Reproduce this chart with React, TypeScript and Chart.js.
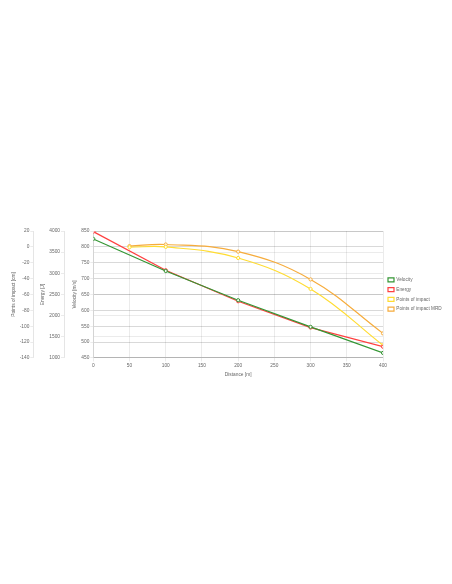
import React, { useEffect, useRef } from "react";
import { Chart, registerables } from "chart.js";

Chart.register(...registerables);

const distances = [0, 100, 200, 300, 400];
const velocity = [825, 724, 632, 548, 466];
const energy = [3985, 3073, 2340, 1718, 1266];
const poiDistances = [50, 100, 200, 300, 400];
const poi = [-0.5, 0, -14, -53, -124];
const poiMrd = [1, 3, -6, -41, -109];

const GREEN = "rgb(52,150,52)";
const RED = "rgb(255,64,64)";
const YELLOW = "rgb(255,220,50)";
const ORANGE = "rgb(246,172,60)";
const GRID = "rgba(0,0,0,0.1)";
const TICK = "#666";

export default function App() {
  const ref = useRef<HTMLCanvasElement>(null);
  useEffect(() => {
    if (!ref.current) return;
    const font = { size: 4.8, family: "'Liberation Sans', Arial, sans-serif" };
    const yAxis = (min: number, max: number, step: number, title: string, w: number, tpad: number) => ({
      type: "linear" as const,
      position: "left" as const,
      min,
      max,
      ticks: { stepSize: step, font, color: TICK, padding: 1, callback: (v: any) => String(v) },
      grid: { color: GRID, tickLength: 3, lineWidth: 0.8 },
      border: { color: GRID },
      title: { display: true, text: title, font, color: TICK, padding: { top: tpad, bottom: 2 } },
      afterFit: (s: any) => {
        s.width = w;
      },
    });
    const ds = (label: string, xs: number[], ys: number[], axis: string, color: string, tension: number) => ({
      label,
      data: xs.map((x, i) => ({ x, y: ys[i] })),
      yAxisID: axis,
      borderColor: color,
      backgroundColor: "rgba(255,255,255,0.9)",
      borderWidth: 1.2,
      pointRadius: 1.6,
      pointBorderWidth: 1,
      tension,
    });
    const chart = new Chart(ref.current, {
      type: "line",
      data: {
        datasets: [
          ds("Velocity", distances, velocity, "velocity", GREEN, 0),
          ds("Energy", distances, energy, "energy", RED, 0),
          ds("Points of impact", poiDistances, poi, "poi", YELLOW, 0.4),
          ds("Points of impact MRD", poiDistances, poiMrd, "poi", ORANGE, 0.4),
        ],
      },
      options: {
        animation: false,
        responsive: true,
        maintainAspectRatio: false,
        layout: { padding: { top: 2.5 } },
        plugins: {
          legend: {
            position: "right",
            fullSize: false,
            maxWidth: 61,
            labels: { font: { ...font, size: 4.7 }, color: TICK, boxWidth: 6, boxHeight: 4, padding: 5 },
          },
          tooltip: { enabled: false },
        },
        scales: {
          x: {
            type: "linear",
            min: 0,
            max: 400,
            ticks: { stepSize: 50, font, color: TICK, padding: 1.5 },
            grid: { color: GRID, tickLength: 3.5, lineWidth: 0.8 },
            border: { color: GRID },
            title: { display: true, text: "Distance [m]", font, color: TICK, padding: { top: 2, bottom: 0 } },
          },
          velocity: yAxis(450, 850, 50, "Velocity [m/s]", 29.3, 8),
          energy: yAxis(1000, 4000, 500, "Energy [J]", 30.7, 6.7),
          poi: yAxis(-140, 20, 20, "Points of impact [cm]", 25.3, 2.3),
        },
      },
    });
    return () => chart.destroy();
  }, []);
  return (
    <div style={{ marginTop: 218, width: 436, height: 152, position: "relative" }}>
      <canvas ref={ref} />
    </div>
  );
}
